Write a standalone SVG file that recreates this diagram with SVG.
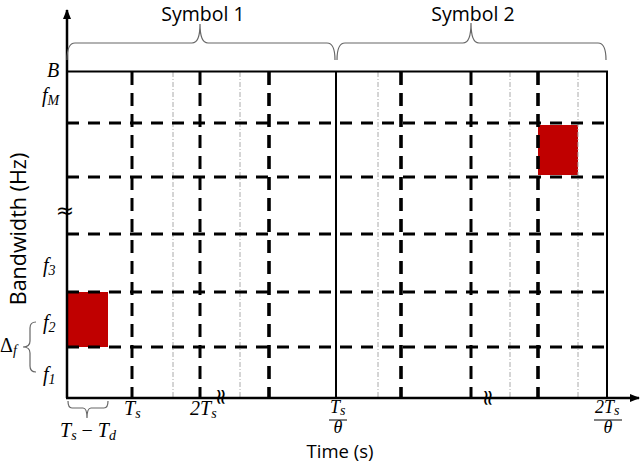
<svg xmlns="http://www.w3.org/2000/svg" width="640" height="464" viewBox="0 0 640 464">
<defs>
<style>
.hd{stroke:#000;stroke-width:3;stroke-dasharray:12 9;fill:none}
.vd{stroke:#000;stroke-width:3;stroke-dasharray:13 8;fill:none}
.vdt{stroke:#000;stroke-width:3.6;stroke-dasharray:13 8;fill:none}
.dot{stroke:#aaa;stroke-width:1;stroke-dasharray:5 2 1 2;fill:none}
.solid{stroke:#000;stroke-width:2;fill:none}
.brace{stroke:#666;stroke-width:1.2;fill:none}
.lbl{font-family:"Open Sans","Liberation Sans",sans-serif;font-size:19.5px;fill:#000}
.m{font-family:"Liberation Serif",serif;font-style:italic;font-size:20px;fill:#000}
.fr{font-size:18px}
.sub{font-size:14px}
.brk{font-family:"DejaVu Sans",sans-serif;font-size:22px;fill:#000}
.red{fill:#C00000}
</style>
<marker id="arr" markerWidth="10" markerHeight="10" refX="9" refY="5" orient="auto" markerUnits="userSpaceOnUse">
<path d="M0,1 L10,5 L0,9 Z" fill="#000"/>
</marker>
</defs>
<rect width="640" height="464" fill="#fff"/>

<g id="cells">
<rect class="red" x="67" y="292" width="41" height="55"/>
<rect class="red" x="538" y="125" width="40" height="50"/>
</g>

<g id="grid">
<line class="dot" x1="173" y1="72" x2="173" y2="397"/>
<line class="dot" x1="240" y1="72" x2="240" y2="397"/>
<line class="dot" x1="378" y1="72" x2="378" y2="397"/>
<line class="dot" x1="510" y1="72" x2="510" y2="397"/>
<line class="dot" x1="578" y1="72" x2="578" y2="397"/>
<line class="hd" x1="67" y1="123" x2="610" y2="123"/>
<line class="hd" x1="67" y1="177" x2="610" y2="177"/>
<line class="hd" x1="67" y1="234" x2="610" y2="234"/>
<line class="hd" x1="67" y1="292" x2="610" y2="292"/>
<line class="hd" x1="67" y1="347" x2="610" y2="347"/>
<line class="vd" x1="132" y1="72" x2="132" y2="397"/>
<line class="vd" x1="200" y1="72" x2="200" y2="397"/>
<line class="vdt" x1="269" y1="72" x2="269" y2="397"/>
<line class="vdt" x1="401" y1="72" x2="401" y2="397"/>
<line class="vd" x1="471" y1="72" x2="471" y2="397"/>
<line class="vdt" x1="538" y1="72" x2="538" y2="397"/>
<line class="solid" x1="67" y1="71.5" x2="608" y2="71.5"/>
<line class="solid" x1="336" y1="71" x2="336" y2="398"/>
<line class="solid" x1="607" y1="71" x2="607" y2="398"/>
</g>

<g id="axes">
<line x1="67" y1="398" x2="67" y2="10" stroke="#000" stroke-width="2.5" marker-end="url(#arr)"/>
<line x1="66" y1="398" x2="639" y2="398" stroke="#000" stroke-width="2.5" marker-end="url(#arr)"/>
<text class="brk" x="65" y="218" text-anchor="middle">≈</text>
<text class="brk" text-anchor="middle" transform="translate(221,397) rotate(90) translate(0,7)">≈</text>
<text class="brk" text-anchor="middle" transform="translate(488,398) rotate(90) translate(0,7)">≈</text>
</g>

<g id="braces">
<path class="brace" d="M67,60 Q67,43 75,43 L192,43 Q200,43 200,24 Q200,43 208,43 L327,43 Q335,43 335,60"/>
<path class="brace" d="M337,60 Q337,43 345,43 L463,43 Q471,43 471,23 Q471,43 479,43 L598,43 Q606,43 606,60"/>
<path class="brace" d="M36,322 Q30,322 30,328 L30,341 Q30,347 23,347 Q30,347 30,353 L30,366 Q30,372 36,372"/>
<path class="brace" d="M68,401 Q68,408 72,408 L83,408 Q87,408 87,418 Q87,408 91,408 L104,408 Q108,408 108,401"/>
</g>

<g id="labels">
<text class="lbl" x="203" y="21" text-anchor="middle">Symbol 1</text>
<text class="lbl" x="473" y="21" text-anchor="middle">Symbol 2</text>
<text class="lbl" x="340" y="458" text-anchor="middle" style="font-size:18.5px">Time (s)</text>
<text class="lbl" style="font-size:21.5px" text-anchor="middle" transform="translate(26,229) rotate(-90)">Bandwidth (Hz)</text>

<text class="m" x="47" y="77">B</text>
<text class="m" x="42" y="102">f<tspan class="sub" dy="3">M</tspan></text>
<text class="m" x="43" y="272">f<tspan class="sub" dy="3">3</tspan></text>
<text class="m" x="43" y="329">f<tspan class="sub" dy="3">2</tspan></text>
<text class="m" x="43" y="381">f<tspan class="sub" dy="3">1</tspan></text>
<text class="m" x="0" y="352" style="font-style:normal">Δ<tspan class="sub" dy="3" style="font-style:italic">f</tspan></text>

<text class="m" x="124" y="415">T<tspan class="sub" dy="3">s</tspan></text>
<text class="m" x="190" y="415">2T<tspan class="sub" dy="3">s</tspan></text>
<text class="m" x="60" y="437">T<tspan class="sub" dy="3">s</tspan><tspan dy="-3" style="font-style:normal"> − </tspan>T<tspan class="sub" dy="3">d</tspan></text>

<text class="m fr" x="330" y="413">T<tspan class="sub" dy="2">s</tspan></text>
<line x1="329" y1="420" x2="347" y2="420" stroke="#000" stroke-width="1"/>
<text class="m fr" x="338" y="433" text-anchor="middle">θ</text>

<text class="m fr" x="595" y="413">2T<tspan class="sub" dy="2">s</tspan></text>
<line x1="594" y1="420" x2="622" y2="420" stroke="#000" stroke-width="1"/>
<text class="m fr" x="608" y="433" text-anchor="middle">θ</text>
</g>
</svg>
